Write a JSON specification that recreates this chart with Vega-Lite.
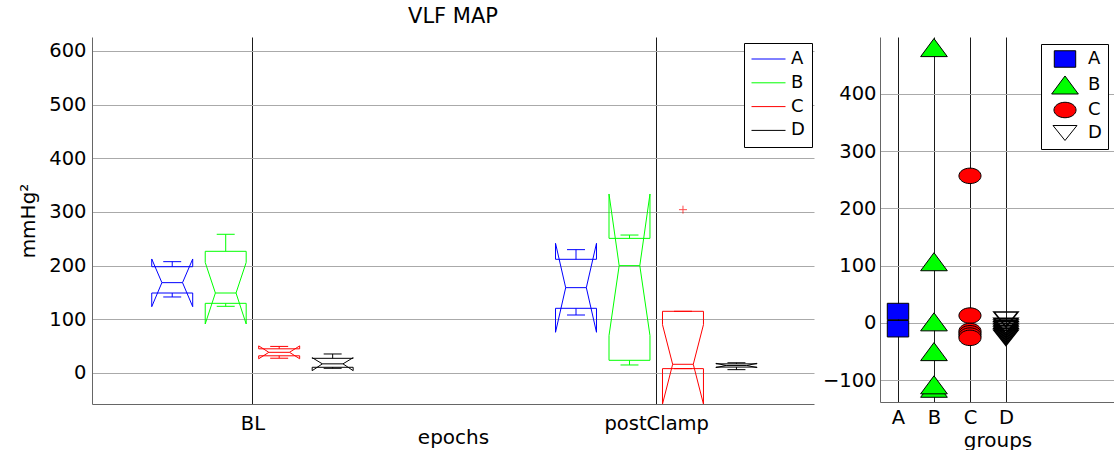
{
  "$schema": "https://vega.github.io/schema/vega-lite/v6.json",
  "background": "white",
  "padding": {"left": 18, "top": 6, "right": 0, "bottom": 0},
  "bounds": "flush",
  "spacing": 66,
  "resolve": {
    "legend": {"color": "independent", "fill": "independent", "shape": "independent"},
    "scale": {"color": "independent", "fill": "independent", "shape": "independent"}
  },
  "config": {
    "font": "DejaVu Sans",
    "view": {"stroke": null},
    "axis": {
      "domainColor": "#666666",
      "domainWidth": 1,
      "ticks": false,
      "labelColor": "#000000",
      "titleColor": "#000000",
      "labelFontSize": 19.5,
      "titleFontSize": 20,
      "titleFontWeight": "normal",
      "gridOpacity": 1,
      "gridWidth": 1
    },
    "title": {"fontSize": 21, "fontWeight": "normal", "color": "#000000"},
    "legend": {"labelColor": "#000000", "labelFontSize": 18, "symbolOpacity": 1}
  },
  "hconcat": [
    {
      "width": 722,
      "height": 367,
      "title": {"text": "VLF MAP", "offset": 10},
      "data": {
        "values": [
          {"epoch": "BL", "group": "A", "lo": 141.6, "q1": 149, "med": 168.3, "q3": 198, "hi": 207.4, "nlo": 123.5, "nhi": 212.4, "out": null},
          {"epoch": "BL", "group": "B", "lo": 124.2, "q1": 129.8, "med": 149, "q3": 226.7, "hi": 258.4, "nlo": 91.3, "nhi": 206, "out": null},
          {"epoch": "BL", "group": "C", "lo": 27.5, "q1": 32, "med": 38.5, "q3": 45, "hi": 49.5, "nlo": 26.5, "nhi": 50.5, "out": null},
          {"epoch": "BL", "group": "D", "lo": 8.7, "q1": 10.6, "med": 17, "q3": 27.3, "hi": 35.4, "nlo": 4.3, "nhi": 28.5, "out": null},
          {"epoch": "postClamp", "group": "A", "lo": 108, "q1": 120.5, "med": 159, "q3": 211.8, "hi": 229.8, "nlo": 75.8, "nhi": 241.6, "out": null},
          {"epoch": "postClamp", "group": "B", "lo": 14.9, "q1": 23.6, "med": 200, "q3": 250.8, "hi": 257, "nlo": 69.6, "nhi": 333.5, "out": null},
          {"epoch": "postClamp", "group": "C", "lo": 8.1, "q1": 8.1, "med": 16.2, "q3": 114.9, "hi": 114.9, "nlo": -58, "nhi": 90, "out": 304.3},
          {"epoch": "postClamp", "group": "D", "lo": 6.2, "q1": 11, "med": 14, "q3": 17, "hi": 19, "nlo": 10, "nhi": 18, "out": null}
        ]
      },
      "transform": [
        {"calculate": "(datum.epoch == 'BL' ? 0 : 7.55) + indexof(['A','B','C','D'], datum.group) - 1.5", "as": "c"}
      ],
      "encoding": {
        "color": {
          "field": "group",
          "type": "nominal",
          "scale": {"domain": ["A", "B", "C", "D"], "range": ["#0000ff", "#00ff00", "#ff0000", "#000000"]},
          "legend": {
            "orient": "none",
            "legendX": 652,
            "legendY": 6,
            "title": null,
            "symbolType": "M-2,0H2",
            "symbolSize": 289,
            "symbolStrokeWidth": 1,
            "symbolOffset": 8.5,
            "labelFontSize": 18,
            "labelOffset": 13.5,
            "padding": 7,
            "rowPadding": 5.8,
            "strokeColor": "#000000",
            "fillColor": "#ffffff"
          }
        }
      },
      "layer": [
        {
          "transform": [
            {"calculate": "[datum.c-0.383, datum.c-0.383, datum.c-0.193, datum.c-0.383, datum.c-0.383, datum.c+0.383, datum.c+0.383, datum.c+0.193, datum.c+0.383, datum.c+0.383, datum.c-0.383]", "as": "px"},
            {"calculate": "[datum.q1, datum.nlo, datum.med, datum.nhi, datum.q3, datum.q3, datum.nhi, datum.med, datum.nlo, datum.q1, datum.q1]", "as": "py"},
            {"calculate": "[0,1,2,3,4,5,6,7,8,9,10]", "as": "pi"},
            {"flatten": ["px", "py", "pi"]}
          ],
          "mark": {"type": "line", "strokeWidth": 1, "clip": true},
          "encoding": {
            "x": {
              "field": "px",
              "type": "quantitative",
              "scale": {"domain": [-3, 10.5], "nice": false, "zero": false},
              "axis": {
                "values": [0, 7.55],
                "labelExpr": "datum.value < 1 ? 'BL' : 'postClamp'",
                "title": "epochs",
                "grid": true,
                "gridColor": "#1a1a1a",
                "labelPadding": 10,
                "titleY": 23
              }
            },
            "y": {
              "field": "py",
              "type": "quantitative",
              "scale": {"domain": [-57.8, 626], "nice": false, "zero": false},
              "axis": {
                "values": [0, 100, 200, 300, 400, 500, 600],
                "title": "mmHg²",
                "labelPadding": 6,
                "titlePadding": 10,
                "grid": true,
                "gridColor": "#aaaaaa"
              }
            },
            "order": {"field": "pi", "type": "quantitative"},
            "detail": {"field": "epoch", "type": "nominal"}
          }
        },
        {
          "transform": [
            {"calculate": "[datum.c-0.193, datum.c, datum.c, datum.c-0.168, datum.c-0.168]", "as": "sx1"},
            {"calculate": "[datum.c+0.193, datum.c, datum.c, datum.c+0.168, datum.c+0.168]", "as": "sx2"},
            {"calculate": "[datum.med, datum.q3, datum.q1, datum.hi, datum.lo]", "as": "sy1"},
            {"calculate": "[datum.med, datum.hi, datum.lo, datum.hi, datum.lo]", "as": "sy2"},
            {"flatten": ["sx1", "sx2", "sy1", "sy2"]}
          ],
          "mark": {"type": "rule", "strokeWidth": 1, "clip": true},
          "encoding": {
            "x": {"field": "sx1", "type": "quantitative"},
            "x2": {"field": "sx2"},
            "y": {"field": "sy1", "type": "quantitative"},
            "y2": {"field": "sy2"}
          }
        },
        {
          "transform": [{"filter": "datum.out != null"}],
          "mark": {"type": "point", "shape": "M-1,0H1M0,-1V1", "size": 64, "filled": false, "strokeWidth": 1, "clip": true},
          "encoding": {
            "x": {"field": "c", "type": "quantitative"},
            "y": {"field": "out", "type": "quantitative"}
          }
        }
      ]
    },
    {
      "width": 235,
      "height": 365,
      "data": {
        "values": [
          {"group": "A", "value": 20},
          {"group": "A", "value": -10},
          {"group": "B", "value": 481},
          {"group": "B", "value": 107},
          {"group": "B", "value": 2},
          {"group": "B", "value": -50},
          {"group": "B", "value": -114},
          {"group": "B", "value": -108},
          {"group": "C", "value": 257},
          {"group": "C", "value": 13},
          {"group": "C", "value": -14},
          {"group": "C", "value": -18},
          {"group": "C", "value": -22},
          {"group": "C", "value": -26},
          {"group": "D", "value": 6},
          {"group": "D", "value": -5},
          {"group": "D", "value": -8},
          {"group": "D", "value": -11},
          {"group": "D", "value": -14},
          {"group": "D", "value": -17},
          {"group": "D", "value": -20},
          {"group": "D", "value": -23},
          {"group": "D", "value": -26}
        ]
      },
      "transform": [
        {"calculate": "indexof(['A','B','C','D'], datum.group) + 1", "as": "gx"}
      ],
      "mark": {"type": "point", "filled": true, "size": 289, "stroke": "#000000", "opacity": 1, "clip": true},
      "encoding": {
        "x": {
          "field": "gx",
          "type": "quantitative",
          "scale": {"domain": [0.5, 7.03], "nice": false, "zero": false},
          "axis": {
            "values": [1, 2, 3, 4],
            "labelExpr": "['A','B','C','D'][datum.value - 1]",
            "title": "groups",
            "grid": true,
            "gridColor": "#1a1a1a",
            "labelPadding": 6,
            "titleY": 28
          }
        },
        "y": {
          "field": "value",
          "type": "quantitative",
          "scale": {"domain": [-138, 499.5], "nice": false, "zero": false},
          "axis": {
            "values": [-100, 0, 100, 200, 300, 400],
            "title": null,
            "labelPadding": 4,
            "grid": true,
            "gridColor": "#aaaaaa"
          }
        },
        "shape": {
          "field": "group",
          "type": "nominal",
          "scale": {
            "domain": ["A", "B", "C", "D"],
            "range": [
              "M-1.26,-0.97H1.26V0.97H-1.26Z",
              "M0,-1.06L1.57,1.06L-1.57,1.06Z",
              "M-1.3,0A1.3,0.91 0 1,0 1.3,0A1.3,0.91 0 1,0 -1.3,0Z",
              "M-1.41,-0.88H1.41L0,0.88Z"
            ]
          },
          "legend": {
            "orient": "none",
            "legendX": 161,
            "legendY": 7,
            "title": null,
            "symbolSize": 289,
            "symbolStrokeWidth": 1,
            "symbolOffset": 9,
            "labelFontSize": 18,
            "labelOffset": 14,
            "padding": 6,
            "rowPadding": 3,
            "strokeColor": "#000000",
            "fillColor": "#ffffff",
            "encode": {
              "symbols": {
                "update": {
                  "stroke": {"value": "#000000"},
                  "strokeWidth": {"signal": "datum.value == 'D' ? 2 : 1"}
                }
              }
            }
          }
        },
        "fill": {
          "field": "group",
          "type": "nominal",
          "scale": {"domain": ["A", "B", "C", "D"], "range": ["#0000ff", "#00ff00", "#ff0000", "transparent"]},
          "legend": {
            "orient": "none",
            "legendX": 161,
            "legendY": 7,
            "title": null,
            "symbolSize": 289,
            "symbolStrokeWidth": 1,
            "symbolOffset": 9,
            "labelFontSize": 18,
            "labelOffset": 14,
            "padding": 6,
            "rowPadding": 3,
            "strokeColor": "#000000",
            "fillColor": "#ffffff",
            "encode": {
              "symbols": {
                "update": {
                  "stroke": {"value": "#000000"},
                  "strokeWidth": {"signal": "datum.value == 'D' ? 2 : 1"}
                }
              }
            }
          }
        },
        "strokeWidth": {"condition": {"test": "datum.group == 'D'", "value": 1.6}, "value": 1}
      }
    }
  ]
}
